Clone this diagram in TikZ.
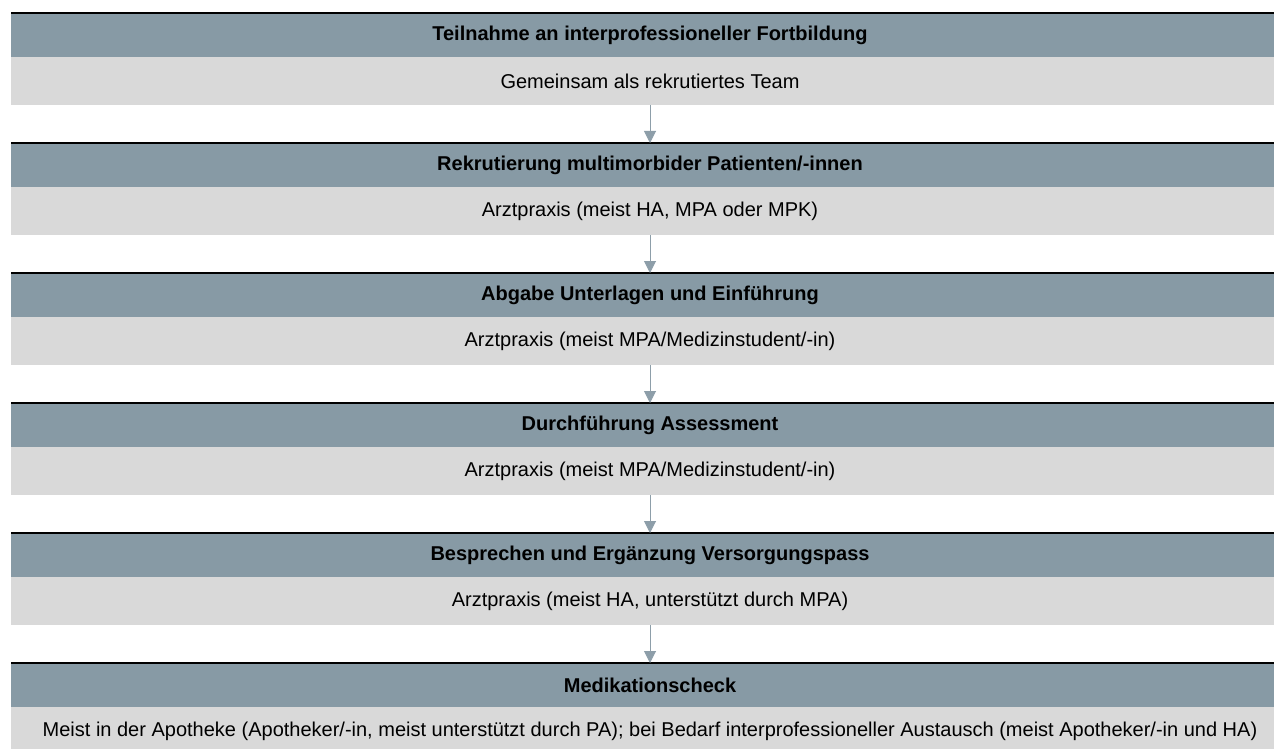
\documentclass[tikz,border=0pt]{standalone}
\usepackage{xcolor}
\usepackage{fontspec}
\setmainfont{Liberation Sans}
\usepackage{tikz}
\usetikzlibrary{positioning, arrows.meta}

\definecolor{headblue}{HTML}{879AA5}
\definecolor{bodygrey}{HTML}{D9D9D9}
\definecolor{arrowblue}{HTML}{8D9EA9}

\begin{document}
\begin{tikzpicture}[node distance=19pt,
        head/.style={fill=headblue, minimum width=639pt, minimum height=22pt, inner sep=0pt, outer sep=0pt, font=\fontsize{10}{12}\selectfont\bfseries},
        body/.style={fill=bodygrey, minimum width=639pt, minimum height=24pt, inner sep=0pt, outer sep=0pt, font=\fontsize{10}{12}\selectfont},
        topline/.style={black, line width=0.8pt},
        link/.style={-{Triangle[width=6pt, length=6pt]}, arrowblue, line width=0.5pt}]
        \useasboundingbox (0,0) rectangle (637pt,-374.5pt);

        \node[head, anchor=north west] (t1) at (5.5pt,-6.5pt) {Teilnahme an interprofessioneller Fortbildung};
        \node[body] (b1) [below=0pt of t1] {Gemeinsam als rekrutiertes Team};
        \node[head] (t2) [below=of b1] {Rekrutierung multimorbider Patienten/-innen};
        \node[body] (b2) [below=0pt of t2] {Arztpraxis (meist HA, MPA oder MPK)};
        \node[head] (t3) [below=of b2] {Abgabe Unterlagen und Einführung};
        \node[body] (b3) [below=0pt of t3] {Arztpraxis (meist MPA/Medizinstudent/-in)};
        \node[head] (t4) [below=of b3] {Durchführung Assessment};
        \node[body] (b4) [below=0pt of t4] {Arztpraxis (meist MPA/Medizinstudent/-in)};
        \node[head] (t5) [below=of b4] {Besprechen und Ergänzung Versorgungspass};
        \node[body] (b5) [below=0pt of t5] {Arztpraxis (meist HA, unterstützt durch MPA)};
        \node[head] (t6) [below=of b5] {Medikationscheck};
        \node[body] (b6) [below=0pt of t6] {Meist in der Apotheke (Apotheker/-in, meist unterstützt durch PA); bei Bedarf interprofessioneller Austausch (meist Apotheker/-in und HA)};

        \foreach \i in {1,...,6}
            \draw[topline] (t\i.north west) -- (t\i.north east);

        \path[link]
        (b1) edge (t2)
        (b2) edge (t3)
        (b3) edge (t4)
        (b4) edge (t5)
        (b5) edge (t6);
    \end{tikzpicture}
\end{document}
